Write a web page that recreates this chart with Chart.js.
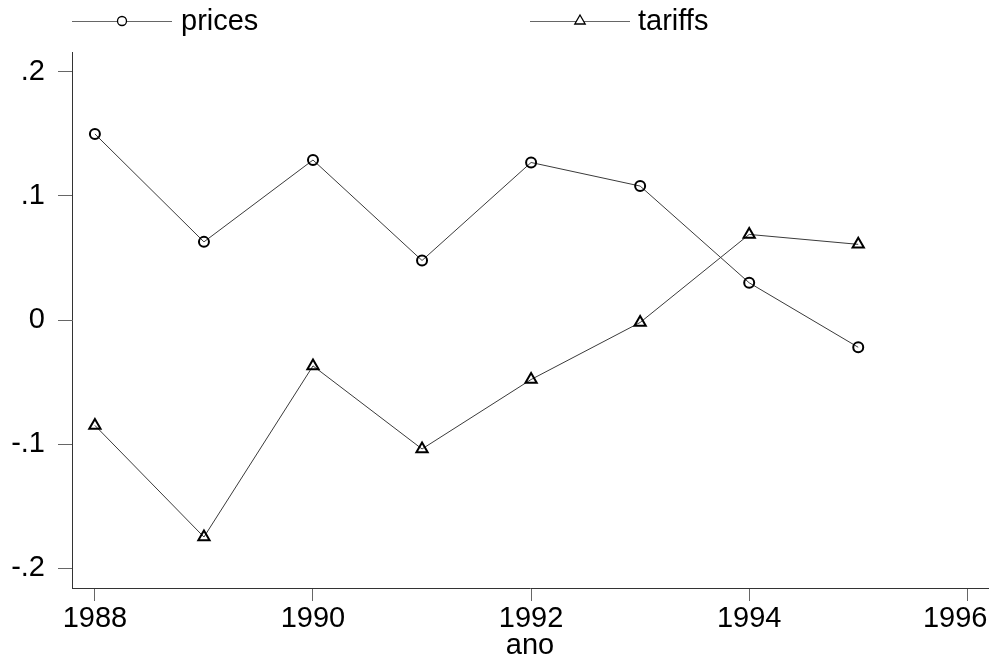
<!DOCTYPE html>
<html>
<head>
<meta charset="utf-8">
<script src="https://cdn.jsdelivr.net/npm/chart.js@4/dist/chart.umd.min.js"></script>
<style>
  html, body { margin: 0; padding: 0; background: #fff; }
  canvas { display: block; }
</style>
</head>
<body>
<canvas id="chart" width="996" height="663"></canvas>
<script>
// Yearly series
const years   = [1988, 1989, 1990, 1991, 1992, 1993, 1994, 1995];
const prices  = [0.150, 0.063, 0.129, 0.048, 0.127, 0.108, 0.030, -0.022];
const tariffs = [-0.085, -0.175, -0.037, -0.104, -0.048, -0.002, 0.069, 0.061];

// Axis ticks
const xTicks = [1988, 1990, 1992, 1994, 1996];
const yTicks = [-0.2, -0.1, 0, 0.1, 0.2];
const yTickLabels = ['-.2', '-.1', '0', '.1', '.2'];

const FONT = { family: '"Liberation Sans", Arial, Helvetica, sans-serif', size: 29, lineHeight: 1.2 };
const LINE = '#3a3a3a';
const AXIS = '#333333';
const TICK = '#666666';

const toPoints = vals => years.map((y, i) => ({ x: y, y: vals[i] }));

// Legend drawn as line-marker-line samples above the plot
const topLegend = {
  id: 'topLegend',
  afterDraw(chart) {
    const ctx = chart.ctx;
    const slots = [{ x0: 72, x1: 172, tx: 181 }, { x0: 530, x1: 630, tx: 638 }];
    const y = 21;
    chart.data.datasets.forEach((ds, i) => {
      const s = slots[i];
      ctx.save();
      ctx.strokeStyle = '#666';
      ctx.lineWidth = 1;
      ctx.beginPath();
      ctx.moveTo(s.x0, y + 0.5);
      ctx.lineTo(s.x1, y + 0.5);
      ctx.stroke();
      ctx.fillStyle = '#fff';
      ctx.strokeStyle = ds.pointBorderColor;
      ctx.lineWidth = 1.3;
      Chart.helpers.drawPoint(ctx, { pointStyle: ds.pointStyle, radius: ds.legendRadius, borderWidth: 1.3, rotation: 0 }, (s.x0 + s.x1) / 2, y);
      ctx.fillStyle = '#000';
      ctx.font = `${FONT.size}px ${FONT.family}`;
      ctx.textBaseline = 'middle';
      ctx.textAlign = 'left';
      ctx.fillText(ds.label, s.tx, y + 1);
      ctx.restore();
    });
  }
};

new Chart(document.getElementById('chart'), {
  type: 'line',
  data: {
    datasets: [
      {
        label: 'prices',
        data: toPoints(prices),
        borderColor: LINE,
        borderWidth: 1,
        pointStyle: 'circle',
        pointRadius: 5,
        legendRadius: 4.5,
        pointBorderWidth: 2,
        pointBorderColor: '#000',
        pointBackgroundColor: 'rgba(0,0,0,0)',
        tension: 0
      },
      {
        label: 'tariffs',
        data: toPoints(tariffs),
        borderColor: LINE,
        borderWidth: 1,
        pointStyle: 'triangle',
        pointRadius: 6.5,
        legendRadius: 6,
        pointBorderWidth: 2,
        pointBorderColor: '#000',
        pointBackgroundColor: 'rgba(0,0,0,0)',
        tension: 0
      }
    ]
  },
  options: {
    responsive: false,
    animation: false,
    devicePixelRatio: 1,
    layout: { padding: { top: 52, right: 8, left: 0, bottom: 0 }, autoPadding: false },
    plugins: { legend: { display: false }, tooltip: { enabled: false } },
    scales: {
      x: {
        type: 'linear',
        min: 1987.79,
        max: 1996.19,
        afterBuildTicks: s => { s.ticks = xTicks.map(v => ({ value: v })); },
        afterFit: s => { s.height = 75; s.paddingLeft = 0; s.paddingRight = 0; },
        ticks: {
          color: '#000',
          font: FONT,
          padding: 1,
          maxRotation: 0,
          // keep the last year inside the frame edge
          callback: v => v === xTicks[xTicks.length - 1] ? String(v) + '\u2007 ' : String(v)
        },
        grid: { drawOnChartArea: false, drawTicks: true, tickLength: 13, color: TICK, tickColor: TICK, tickWidth: 1 },
        border: { display: true, color: AXIS, width: 1 },
        title: { display: true, text: 'ano', color: '#000', font: FONT, padding: { top: 0, bottom: 0 } }
      },
      y: {
        type: 'linear',
        min: -0.2161,
        max: 0.2161,
        afterBuildTicks: s => { s.ticks = yTicks.map(v => ({ value: v })); },
        afterFit: s => { s.width = 72; s.paddingTop = 0; s.paddingBottom = 0; },
        ticks: {
          color: '#000',
          font: FONT,
          padding: 13,
          callback: v => yTickLabels[yTicks.findIndex(t => Math.abs(t - v) < 1e-9)]
        },
        grid: { drawOnChartArea: false, drawTicks: true, tickLength: 14, color: TICK, tickColor: TICK, tickWidth: 1 },
        border: { display: true, color: AXIS, width: 1 }
      }
    }
  },
  plugins: [topLegend]
});
</script>
</body>
</html>
